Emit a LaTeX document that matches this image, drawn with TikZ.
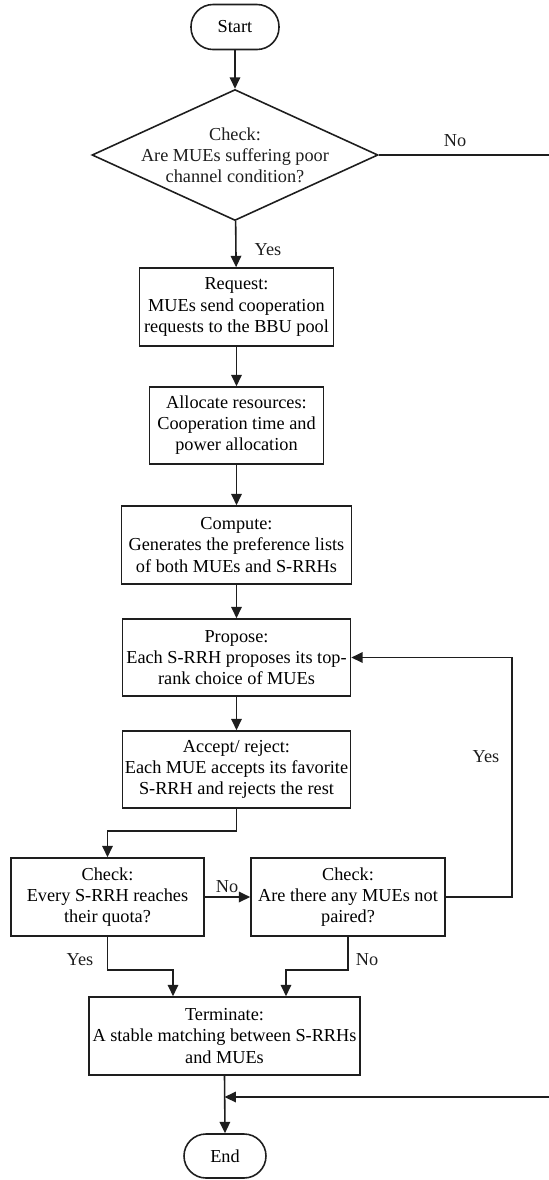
\documentclass[tikz,border=0pt]{standalone}
\usepackage{fontspec}
\setmainfont{Liberation Serif}
\usepackage{tikz}
\usetikzlibrary{shapes.geometric, arrows.meta, positioning, calc}
\definecolor{mydark}{RGB}{30,30,30}
\tikzset{
  procbox/.style={rectangle, draw=mydark, fill=white, align=center,
    font=\fontsize{10.4}{12}\selectfont, line width=0.9pt, inner sep=1pt},
  termbox/.style={rectangle, draw=mydark, fill=white, align=center,
    font=\fontsize{10.4}{12}\selectfont, line width=0.9pt,
    rounded corners=0.44cm},
  decision/.style={diamond, draw=mydark, fill=white, line width=0.9pt,
    inner sep=0pt},
  lbl/.style={font=\fontsize{10.4}{12}\selectfont, color=mydark},
  arrow/.style={-{Triangle[length=6.5pt, width=6pt]}, line width=0.9pt, color=mydark},
  line/.style={line width=0.9pt, color=mydark}
}

\begin{document}
\begin{tikzpicture}

  \useasboundingbox (0,0) rectangle (10.96,-23.6);

  % ── Main column: x=4.73, boxes top to bottom ─────────────────────────────
  \node[termbox, minimum width=1.76cm, minimum height=0.90cm]
       (start) at (4.70, -0.54) {Start};

  \node[decision, minimum width=5.72cm, minimum height=2.62cm]
       (check0) at (4.70, -3.10) {};
  \node[lbl, align=center] (check0txt) at (check0)
       {Check:\\Are MUEs suffering poor\\channel condition?};

  \node[procbox, minimum width=3.88cm, minimum height=1.56cm]
       (request) at (4.73, -6.14)
       {Request:\\MUEs send cooperation\\requests to the BBU pool};

  \node[procbox, minimum width=3.48cm, minimum height=1.54cm]
       (alloc) at (4.73, -8.51)
       {Allocate resources:\\Cooperation time and\\power allocation};

  \node[procbox, minimum width=4.60cm, minimum height=1.56cm]
       (compute) at (4.73, -10.90)
       {Compute:\\Generates the preference lists\\of both MUEs and S-RRHs};

  \node[procbox, minimum width=4.56cm, minimum height=1.54cm]
       (propose) at (4.73, -13.15)
       {Propose:\\Each S-RRH proposes its top-\\rank choice of MUEs};

  \node[procbox, minimum width=4.56cm, minimum height=1.54cm]
       (accept) at (4.73, -15.39)
       {Accept/ reject:\\Each MUE accepts its favorite\\S-RRH and rejects the rest};

  % ── Check row: two boxes side by side ─────────────────────────────────────
  \node[procbox, minimum width=3.86cm, minimum height=1.56cm]
       (check1) at (2.15, -17.94)
       {Check:\\Every S-RRH reaches\\their quota?};

  \node[procbox, minimum width=3.88cm, minimum height=1.56cm]
       (check2) at (6.96, -17.94)
       {Check:\\Are there any MUEs not\\paired?};

  % ── Terminate and End ─────────────────────────────────────────────────────
  \node[procbox, minimum width=5.42cm, minimum height=1.56cm]
       (term) at (4.49, -20.72)
       {Terminate:\\A stable matching between S-RRHs\\and MUEs};

  \node[termbox, minimum width=1.64cm, minimum height=0.88cm]
       (stop) at (4.50, -23.12) {End};

  \coordinate (merge) at (4.49, -21.94);

  % ── Connections — main column ─────────────────────────────────────────────
  \draw[arrow] (start)   -- (check0);
  \draw[arrow] (check0)  -- (request);
  \draw[arrow] (request) -- (alloc);
  \draw[arrow] (alloc)   -- (compute);
  \draw[arrow] (compute) -- (propose);
  \draw[arrow] (propose) -- (accept);
  \draw[arrow] (accept.south) -- ++(0,-0.44) -| (check1.north);

  % ── Connections — check row ───────────────────────────────────────────────
  \draw[arrow] (check1.east) -- (check2.west);
  \draw[arrow] (check2.east) -- ++(1.32,0) |- (propose.east);
  \draw[arrow] (check1.south) -- ++(0,-0.66) -| ([xshift=-1.03cm]term.north);
  \draw[arrow] (check2.south) -- ++(0,-0.66) -| ([xshift=1.23cm]term.north);

  % ── Connections — to End ──────────────────────────────────────────────────
  \draw[arrow] (term.south) -- (stop.north);
  \draw[arrow] (check0.east) -- ++(3.50,0) |- (merge);

  % ── Labels ────────────────────────────────────────────────────────────────
  \node[lbl] (no0)  at (9.10, -2.82)  {No};
  \node[lbl] (yes0) at (5.36, -5.00)  {Yes};
  \node[lbl] (yes2) at (9.72, -15.14) {Yes};
  \node[lbl] (no1)  at (4.54, -17.74) {No};
  \node[lbl] (yes1) at (1.60, -19.20) {Yes};
  \node[lbl] (no2)  at (7.34, -19.20) {No};

\end{tikzpicture}
\end{document}
